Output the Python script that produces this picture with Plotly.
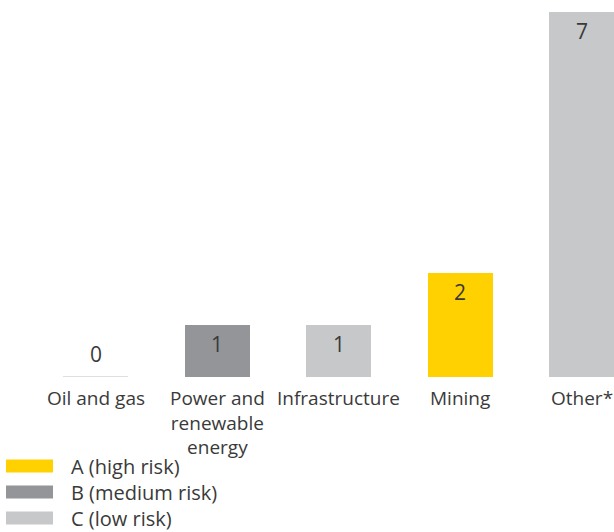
import plotly.graph_objects as go

# Project counts by sector and environmental/social risk category
categories = ["Oil and gas", "Power and<br>renewable<br>energy", "Infrastructure", "Mining", "Other*"]
projects = [0, 1, 1, 2, 7]
risk_class = [None, "B", "C", "A", "C"]

risk_order = ["A", "B", "C"]
risk_labels = {"A": "A (high risk)", "B": "B (medium risk)", "C": "C (low risk)"}
risk_colors = {"A": "#FFD100", "B": "#939598", "C": "#C7C8CA"}
empty_color = "#D3D4D6"

TEXT = "#3a3a3a"
FONT = "Open Sans"
BAR_W = 0.535

W, H = 614, 532
M_TOP, M_BOTTOM = 12, 155
PLOT_H = H - M_TOP - M_BOTTOM

pos = list(range(len(categories)))

fig = go.Figure()

fig.add_trace(go.Bar(
    x=pos,
    y=projects,
    width=BAR_W,
    marker=dict(color=[risk_colors.get(r, empty_color) for r in risk_class], line=dict(width=0)),
    showlegend=False,
    hoverinfo="skip",
))

# Thin baseline stub for categories with no projects
for i, v in zip(pos, projects):
    if v == 0:
        fig.add_trace(go.Scatter(
            x=[i - BAR_W / 2, i + BAR_W / 2], y=[v, v],
            mode="lines", line=dict(color=empty_color, width=1.5),
            showlegend=False, hoverinfo="skip",
        ))

annotations = []
# Value labels: inside the top of each bar, above the baseline for zero
for i, v in zip(pos, projects):
    if v > 0:
        annotations.append(dict(x=i, y=v, xref="x", yref="y", text=str(v),
                                showarrow=False, yanchor="top", yshift=-3,
                                font=dict(family=FONT, size=21, color=TEXT)))
    else:
        annotations.append(dict(x=i, y=v, xref="x", yref="y", text=str(v),
                                showarrow=False, yanchor="bottom", yshift=7,
                                font=dict(family=FONT, size=21, color=TEXT)))

# Category labels under each bar
for i, cat in zip(pos, categories):
    annotations.append(dict(x=i, y=0, xref="x", yref="y", text=cat,
                            showarrow=False, yanchor="top", yshift=-6,
                            font=dict(family=FONT, size=19, color=TEXT)))

# Legend block in the bottom-left corner: wide colour swatch + label per row
def px_to_paper_y(py):
    return (H - M_BOTTOM - py) / PLOT_H

LEG_FIRST_ROW, LEG_ROW_H = 466, 26
SW_X0, SW_X1, SW_H, LABEL_X = 6, 53, 13, 70
shapes = []
for k, key in enumerate(risk_order):
    cy = LEG_FIRST_ROW + k * LEG_ROW_H
    shapes.append(dict(type="rect", xref="paper", yref="paper",
                       x0=SW_X0 / W, x1=SW_X1 / W,
                       y0=px_to_paper_y(cy + SW_H / 2), y1=px_to_paper_y(cy - SW_H / 2),
                       fillcolor=risk_colors[key], line=dict(width=0), layer="above"))
    annotations.append(dict(x=LABEL_X / W, y=px_to_paper_y(cy), xref="paper", yref="paper",
                            text=risk_labels[key], showarrow=False,
                            xanchor="left", yanchor="middle", borderpad=0,
                            font=dict(family=FONT, size=20, color=TEXT)))

fig.update_layout(
    width=W, height=H,
    margin=dict(l=0, r=0, t=M_TOP, b=M_BOTTOM, autoexpand=False),
    paper_bgcolor="white", plot_bgcolor="white",
    bargap=0,
    showlegend=False,
    xaxis=dict(range=[-0.786, 4.267], showticklabels=False, showgrid=False,
               zeroline=False, showline=False, ticks=""),
    yaxis=dict(range=[0, 7], visible=False, showgrid=False, zeroline=False),
    annotations=annotations,
    shapes=shapes,
    font=dict(family=FONT, color=TEXT),
)

fig.write_html("out.html")
